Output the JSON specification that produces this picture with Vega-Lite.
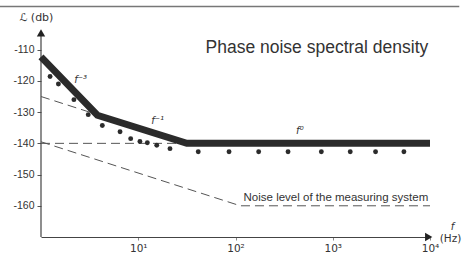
{
  "$schema": "https://vega.github.io/schema/vega-lite/v6.json",
  "autosize": "none",
  "width": 389,
  "height": 231,
  "padding": {"left": 41, "top": 6, "right": 37, "bottom": 18},
  "background": "white",
  "config": {"view": {"stroke": null}, "font": "Liberation Sans"},
  "datasets": {
    "thick": [{"f": 1, "L": -112.3}, {"f": 3.8, "L": -131}, {"f": 31.6, "L": -140}, {"f": 10000, "L": -140}],
    "dashed": [
      {"s": "a", "f": 1, "L": -125}, {"s": "a", "f": 31.6, "L": -140},
      {"s": "b", "f": 1, "L": -140}, {"s": "b", "f": 31.6, "L": -140},
      {"s": "c", "f": 1, "L": -139.5}, {"s": "c", "f": 112, "L": -160}, {"s": "c", "f": 10000, "L": -160}
    ],
    "dots": [
      {"f": 1.24, "L": -118.6}, {"f": 1.51, "L": -121}, {"f": 2.18, "L": -126}, {"f": 3.06, "L": -130.8},
      {"f": 4.27, "L": -134.3}, {"f": 6.5, "L": -136.3}, {"f": 8.36, "L": -138.5}, {"f": 10.4, "L": -139.4},
      {"f": 12.4, "L": -139.8}, {"f": 15.5, "L": -140.6}, {"f": 21.2, "L": -141.7}, {"f": 41.4, "L": -142.7},
      {"f": 85.8, "L": -142.7}, {"f": 173, "L": -142.7}, {"f": 347, "L": -142.7}, {"f": 763, "L": -142.7},
      {"f": 1513, "L": -142.7}, {"f": 2755, "L": -142.7}, {"f": 5390, "L": -142.7}
    ],
    "frame": [{"f": 0.3, "L": -96.2}, {"f": 20000, "L": -96.2}],
    "yaxis": [{"f": 1, "L": -170}, {"f": 1, "L": -104.5}],
    "arrows": [{"f": 1, "L": -104.6, "shape": "triangle-up"}, {"f": 9700, "L": -170, "shape": "triangle-right"}],
    "labels": [
      {"f": 2.2, "L": -119.6, "t": "f⁻³", "sz": 10},
      {"f": 13.6, "L": -132.8, "t": "f⁻¹", "sz": 10},
      {"f": 420, "L": -136, "t": "f⁰", "sz": 10},
      {"f": 16300, "L": -166.8, "t": "f", "sz": 10}
    ],
    "plain": [
      {"f": 0.6, "L": -99.7, "t": "ℒ  (db)", "sz": 11},
      {"f": 12600, "L": -170.7, "t": "(Hz)", "sz": 10.5}
    ]
  },
  "layer": [
    {
      "data": {"name": "frame"},
      "mark": {"type": "line", "color": "#777", "strokeWidth": 1.5, "clip": false},
      "encoding": {
        "x": {"field": "f", "type": "quantitative", "scale": {"type": "log", "domain": [1, 10000], "nice": false},
          "axis": {"values": [10, 100, 1000, 10000], "title": null, "grid": false,
            "labelExpr": "datum.value == 10 ? '10¹' : datum.value == 100 ? '10²' : datum.value == 1000 ? '10³' : '10⁴'",
            "labelFontSize": 10.5, "labelFont": "DejaVu Sans", "labelColor": "#333", "labelPadding": 3,
            "domainColor": "#444", "domainWidth": 1.2, "tickColor": "#888", "tickSize": 3, "labelFlush": false}},
        "y": {"field": "L", "type": "quantitative", "scale": {"domain": [-170, -96], "nice": false, "zero": false},
          "axis": {"values": [-160, -150, -140, -130, -120, -110], "title": null, "grid": false, "domain": false,
            "labelExpr": "'-' + abs(datum.value)", "labelFontSize": 10.5, "labelColor": "#333",
            "tickColor": "#555", "tickSize": 4, "labelPadding": 3}}
      }
    },
    {
      "data": {"name": "yaxis"},
      "mark": {"type": "line", "color": "#444", "strokeWidth": 1.2},
      "encoding": {"x": {"field": "f", "type": "quantitative"}, "y": {"field": "L", "type": "quantitative"}}
    },
    {
      "data": {"name": "arrows"},
      "mark": {"type": "point", "filled": true, "color": "#222", "size": 70, "opacity": 1},
      "encoding": {"x": {"field": "f", "type": "quantitative"}, "y": {"field": "L", "type": "quantitative"},
        "shape": {"field": "shape", "type": "nominal", "scale": null}}
    },
    {
      "data": {"name": "dashed"},
      "mark": {"type": "line", "color": "#555", "strokeWidth": 1, "strokeDash": [9, 5]},
      "encoding": {"x": {"field": "f", "type": "quantitative"}, "y": {"field": "L", "type": "quantitative"},
        "detail": {"field": "s", "type": "nominal"}}
    },
    {
      "data": {"name": "thick"},
      "mark": {"type": "line", "color": "#2b2b2b", "strokeWidth": 7, "strokeJoin": "miter"},
      "encoding": {"x": {"field": "f", "type": "quantitative"}, "y": {"field": "L", "type": "quantitative"}}
    },
    {
      "data": {"name": "dots"},
      "mark": {"type": "circle", "color": "#2b2b2b", "size": 24, "opacity": 1},
      "encoding": {"x": {"field": "f", "type": "quantitative"}, "y": {"field": "L", "type": "quantitative"}}
    },
    {
      "data": {"name": "labels"},
      "mark": {"type": "text", "color": "#333", "baseline": "middle", "align": "left", "font": "DejaVu Sans", "fontStyle": "italic"},
      "encoding": {"x": {"field": "f", "type": "quantitative"}, "y": {"field": "L", "type": "quantitative"},
        "text": {"field": "t"},
        "size": {"field": "sz", "type": "quantitative", "scale": null}}
    },
    {
      "data": {"name": "plain"},
      "mark": {"type": "text", "color": "#333", "baseline": "middle", "align": "left", "font": "DejaVu Sans"},
      "encoding": {"x": {"field": "f", "type": "quantitative"}, "y": {"field": "L", "type": "quantitative"},
        "text": {"field": "t"},
        "size": {"field": "sz", "type": "quantitative", "scale": null}}
    },
    {
      "data": {"values": [{"f": 9600, "L": -111, "t": "Phase noise spectral density"}]},
      "mark": {"type": "text", "align": "right", "baseline": "alphabetic", "fontSize": 17.5, "color": "#333"},
      "encoding": {"x": {"field": "f", "type": "quantitative"}, "y": {"field": "L", "type": "quantitative"}, "text": {"field": "t"}}
    },
    {
      "data": {"values": [{"f": 9600, "L": -158.6, "t": "Noise level of the measuring system"}]},
      "mark": {"type": "text", "align": "right", "baseline": "alphabetic", "fontSize": 11.5, "color": "#333"},
      "encoding": {"x": {"field": "f", "type": "quantitative"}, "y": {"field": "L", "type": "quantitative"}, "text": {"field": "t"}}
    }
  ]
}
